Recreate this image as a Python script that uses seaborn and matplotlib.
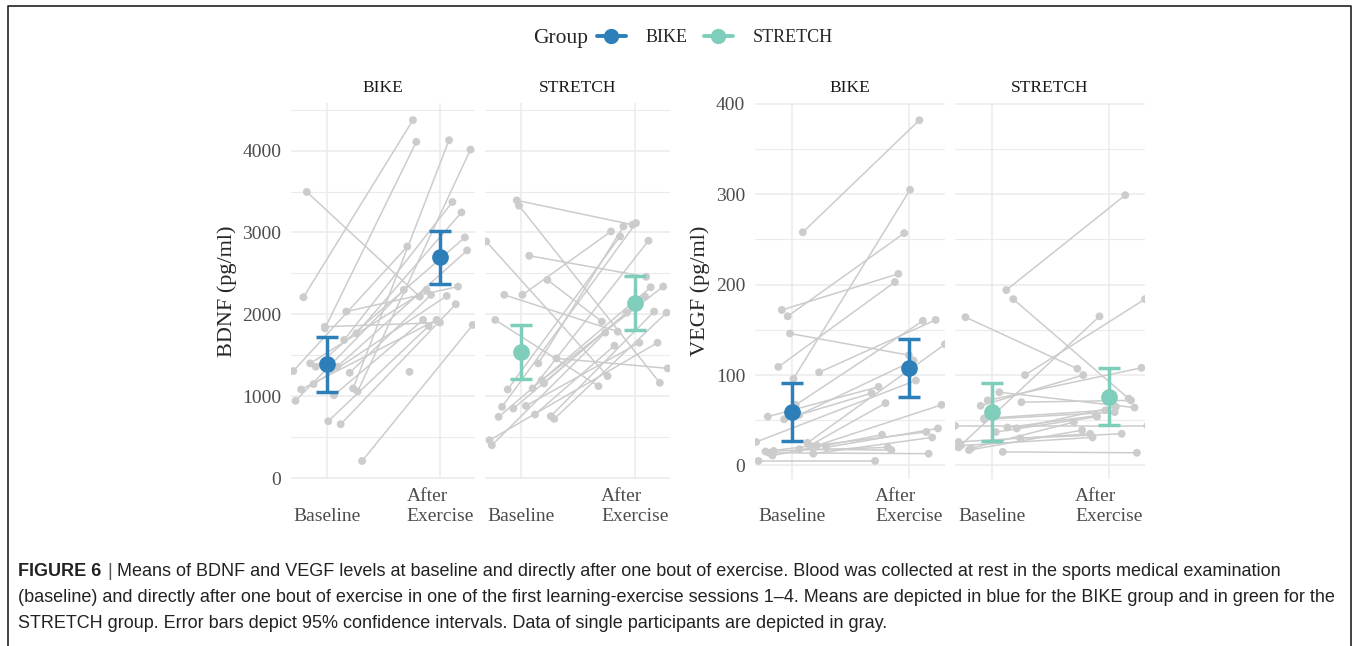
import numpy as np
import pandas as pd
import seaborn as sns
import matplotlib
matplotlib.use("Agg")
import matplotlib.pyplot as plt
from matplotlib.lines import Line2D

# ---- data ----
groups = ["BIKE", "STRETCH"]
time_labels = ["Baseline", "After\nExercise"]
group_colors = ["#2c7fb8", "#7fcdbb"]
gray = "#cccccc"

# BDNF, BIKE (last participant has no baseline value)
bdnf_bike_pre = [2210, 3495, 1850, 2035, 212, 660, 697, 1309, 946, 1830, 1097,
                 1060, 1688, 1770, 1362, 1362, 1403, 1288, 1150, 1015, 1085, np.nan]
bdnf_bike_pre_jit = [-0.21, -0.18, -0.02, 0.17, 0.31, 0.12, 0.01, -0.30, -0.28, -0.02, 0.23,
                     0.27, 0.15, 0.26, -0.10, 0.09, -0.15, 0.20, -0.12, 0.06, -0.23, 0.0]
bdnf_bike_post = [4371, 2218, 1900, 2340, 1872, 2125, 1859, 2829, 2300, 4106, 4126,
                  4012, 3372, 3245, 2940, 2781, 2300, 2238, 2226, 1933, 1933, 1300]
bdnf_bike_post_jit = [-0.24, -0.18, 0.00, 0.16, 0.29, 0.14, -0.10, -0.29, -0.32, -0.21, 0.08,
                      0.27, 0.11, 0.19, 0.22, 0.24, -0.12, -0.08, 0.06, -0.15, -0.03, -0.27]

# BDNF, STRETCH
bdnf_stretch_pre = [3392, 3327, 2891, 2716, 2422, 2239, 2239, 1933, 1403, 1464, 1085, 872,
                    852, 885, 1097, 1199, 1158, 750, 779, 758, 725, 465, 404]
bdnf_stretch_pre_jit = [-0.04, -0.02, -0.31, 0.07, 0.23, -0.15, 0.01, -0.23, 0.15, 0.31, -0.12, -0.17,
                        -0.07, 0.04, 0.10, 0.18, 0.20, -0.20, 0.12, 0.26, 0.29, -0.28, -0.26]
bdnf_stretch_post = [3095, 1166, 1248, 2460, 1912, 1790, 3013, 1125, 3074, 1342, 2952, 3115,
                     2022, 1655, 2899, 2340, 2218, 2332, 1619, 2035, 2022, 1655, 1778]
bdnf_stretch_post_jit = [-0.02, 0.22, -0.24, 0.10, -0.29, -0.15, -0.21, -0.32, -0.10, 0.29, -0.13, 0.01,
                         -0.07, 0.04, 0.12, 0.25, 0.09, 0.14, -0.18, 0.17, 0.28, 0.20, -0.26]

# VEGF, BIKE
vegf_bike_pre = [258, 172, 165, 146, 109, 103, 96, 67, 54, 51, 26, 25,
                 22, 22, 20, 15.5, 11, 13, 5, 14, 16, 18, 56]
vegf_bike_pre_jit = [0.09, -0.09, -0.04, -0.02, -0.12, 0.23, 0.01, 0.03, -0.21, -0.07, -0.31, 0.13,
                     0.15, 0.21, 0.29, -0.23, -0.17, 0.18, -0.29, -0.20, -0.16, 0.06, 0.06]
vegf_bike_post = [382, 212, 257, 122, 203, 161, 305, 160, 87, 80, 94, 134,
                  69, 67, 41, 37, 34, 31, 5, 13, 20, 17, 116]
vegf_bike_post_jit = [0.09, -0.09, -0.04, 0.00, -0.12, 0.23, 0.01, 0.12, -0.26, -0.32, 0.06, 0.31,
                      -0.20, 0.28, 0.25, 0.15, -0.23, 0.20, -0.29, 0.17, -0.18, -0.15, 0.04]

# VEGF, STRETCH
vegf_stretch_pre = [194, 184, 164, 100, 20, 81, 72, 66, 70, 52, 44,
                    42, 41, 30, 26, 22, 17, 19, 15, 37, 51]
vegf_stretch_pre_jit = [0.12, 0.18, -0.23, 0.28, -0.29, 0.06, -0.04, -0.10, 0.25, -0.07, -0.32,
                        0.13, 0.21, 0.24, -0.29, -0.27, -0.20, -0.18, 0.09, 0.03, -0.07]
vegf_stretch_post = [299, 74, 107, 184, 165, 64, 108, 100, 72, 61, 44,
                     55, 65, 35, 35, 31, 39, 48, 14, 54, 59]
vegf_stretch_post_jit = [0.14, 0.17, -0.27, 0.31, -0.08, 0.22, 0.28, -0.22, 0.19, -0.03, 0.33,
                         -0.11, 0.06, 0.11, -0.16, -0.14, -0.23, -0.30, 0.24, -0.10, 0.05]

# group means with 95% CI  [baseline, after]
bdnf_mean = {"BIKE": [1394, 2703], "STRETCH": [1545, 2137]}
bdnf_lo = {"BIKE": [1052, 2373], "STRETCH": [1215, 1810]}
bdnf_hi = {"BIKE": [1725, 3021], "STRETCH": [1872, 2463]}
vegf_mean = {"BIKE": [59, 108], "STRETCH": [59, 76]}
vegf_lo = {"BIKE": [27, 76], "STRETCH": [27, 45]}
vegf_hi = {"BIKE": [91, 140], "STRETCH": [91, 108]}

caption = [
    "Means of BDNF and VEGF levels at baseline and directly after one bout of exercise. Blood was collected at rest in the sports medical examination",
    "(baseline) and directly after one bout of exercise in one of the first learning-exercise sessions 1\u20134. Means are depicted in blue for the BIKE group and in green for the",
    "STRETCH group. Error bars depict 95% confidence intervals. Data of single participants are depicted in gray.",
]


def long_table(pre, pre_jit, post, post_jit):
    n = len(pre)
    return pd.DataFrame({
        "id": np.r_[np.arange(n), np.arange(n)],
        "x": np.r_[np.array(pre_jit), 1 + np.array(post_jit)],
        "value": np.r_[np.array(pre, float), np.array(post, float)],
    })


sns.set_style("white")
plt.rcParams["font.family"] = ["Liberation Serif", "DejaVu Serif"]

W, H = 1356, 646
fig = plt.figure(figsize=(W / 100, H / 100), dpi=100)


def px_axes(l, t, r, b):
    return fig.add_axes([l / W, 1 - b / H, (r - l) / W, (b - t) / H])


panels = [
    ("BDNF", "BIKE", (291, 103, 475, 479),
     long_table(bdnf_bike_pre, bdnf_bike_pre_jit, bdnf_bike_post, bdnf_bike_post_jit)),
    ("BDNF", "STRETCH", (485, 103, 670, 479),
     long_table(bdnf_stretch_pre, bdnf_stretch_pre_jit, bdnf_stretch_post, bdnf_stretch_post_jit)),
    ("VEGF", "BIKE", (755, 103, 945, 479),
     long_table(vegf_bike_pre, vegf_bike_pre_jit, vegf_bike_post, vegf_bike_post_jit)),
    ("VEGF", "STRETCH", (955, 103, 1145, 479),
     long_table(vegf_stretch_pre, vegf_stretch_pre_jit, vegf_stretch_post, vegf_stretch_post_jit)),
]

for marker, grp, box, df in panels:
    ax = px_axes(*box)
    color = group_colors[groups.index(grp)]
    sns.lineplot(data=df, x="x", y="value", units="id", estimator=None,
                 color=gray, lw=1.1, ax=ax, zorder=2)
    sns.scatterplot(data=df, x="x", y="value", color=gray, s=32,
                    edgecolor="none", ax=ax, zorder=3)
    if marker == "BDNF":
        m, lo, hi = bdnf_mean[grp], bdnf_lo[grp], bdnf_hi[grp]
        ax.set_ylim(-8, 4580)
        ax.set_yticks([0, 1000, 2000, 3000, 4000])
        ax.set_yticks([500, 1500, 2500, 3500, 4500], minor=True)
    else:
        m, lo, hi = vegf_mean[grp], vegf_lo[grp], vegf_hi[grp]
        ax.set_ylim(-15, 401)
        ax.set_yticks([0, 100, 200, 300, 400])
        ax.set_yticks([50, 150, 250, 350], minor=True)
    m, lo, hi = np.array(m), np.array(lo), np.array(hi)
    ax.errorbar([0, 1], m, yerr=[m - lo, hi - m], fmt="o", color=color,
                ms=11, lw=2.5, capsize=8, capthick=2.5, zorder=5)
    ax.set_xlim(-0.32, 1.31)
    ax.set_xticks([0, 1])
    ax.set_xticklabels(time_labels, fontsize=14, color="#4d4d4d",
                       va="baseline", ma="left")
    ax.tick_params(axis="x", length=0, pad=30)
    ax.tick_params(axis="y", length=0, pad=7, labelsize=14, labelcolor="#4d4d4d")
    ax.grid(which="major", color="#ebebeb", lw=1.1)
    ax.grid(which="minor", axis="y", color="#ebebeb", lw=0.8)
    ax.set_axisbelow(True)
    for s in ax.spines.values():
        s.set_visible(False)
    ax.set_xlabel("")
    ax.set_title(grp, fontsize=12.5, pad=8, color="#1a1a1a")
    if grp == "BIKE":
        ax.set_ylabel(f"{marker} (pg/ml)", fontsize=16, labelpad=4)
    else:
        ax.set_ylabel("")
        ax.set_yticklabels([])

# legend on top
fig.text(533 / W, 1 - 38 / H, "Group", fontsize=15.5, va="center", ha="left")
handles = [Line2D([0], [0], color=c, marker="o", lw=2.8, ms=10) for c in group_colors]
fig.legend(handles, groups, loc="center left", bbox_to_anchor=(597 / W, 1 - 38 / H),
           ncol=2, frameon=False, fontsize=13, handlelength=1.6, handletextpad=1.1,
           columnspacing=0.9, borderpad=0, borderaxespad=0)

# caption
renderer = fig.canvas.get_renderer()
cap_font = ["Liberation Sans", "DejaVu Sans"]
cap_size = 12.95
t0 = fig.text(18 / W, 1 - 572 / H, "FIGURE 6", fontsize=cap_size, fontweight="bold",
              family=cap_font, va="center", color="#222222")
x1 = t0.get_window_extent(renderer).x1
bar = fig.text(x1 / W + 6 / W, 1 - 572 / H, "|", fontsize=cap_size, family=cap_font,
               va="center", color="#555555")
x2 = bar.get_window_extent(renderer).x1
fig.text(x2 / W + 5 / W, 1 - 572 / H, caption[0], fontsize=cap_size, family=cap_font,
         va="center", color="#222222")
for i, line in enumerate(caption[1:]):
    fig.text(18 / W, 1 - (598 + 25 * i) / H, line, fontsize=cap_size, family=cap_font,
             va="center", color="#222222")

# frame around the figure
fig.add_artist(Line2D([8 / W, 8 / W, 1351 / W, 1351 / W], [0, 1 - 6 / H, 1 - 6 / H, 0],
                      transform=fig.transFigure, color="#222222", lw=1.2))

fig.savefig("out.png", dpi=100)
